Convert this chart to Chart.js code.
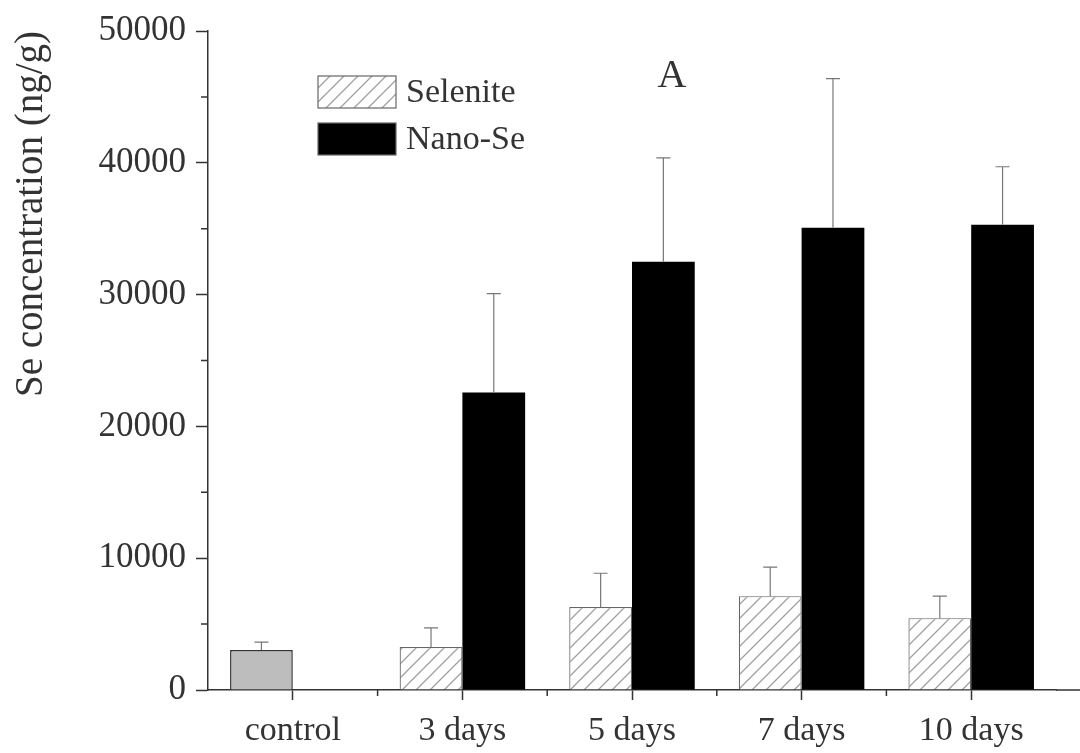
<!DOCTYPE html>
<html>
<head>
<meta charset="utf-8">
<script src="https://cdn.jsdelivr.net/npm/chart.js@4.4.0/dist/chart.umd.min.js"></script>
<style>
  html, body { margin: 0; padding: 0; background: #fff; }
  #wrap { width: 1080px; height: 753px; }
</style>
</head>
<body>
<div id="wrap"><canvas id="seChart" width="1080" height="753"></canvas></div>
<script>
/* ================= Data ================= */

const categories = ['control', '3 days', '5 days', '7 days', '10 days'];
const controlValues = [3030, null, null, null, null];
const controlErrors = [600, null, null, null, null];
const seleniteValues = [null, 3260, 6290, 7120, 5450];
const seleniteErrors = [null, 1450, 2570, 2200, 1670];
const nanoValues = [null, 22580, 32500, 35080, 35300];
const nanoErrors = [null, 7500, 7880, 11300, 4400];
const yTicks = [0, 10000, 20000, 30000, 40000, 50000];

Chart.defaults.font.family = "'Liberation Serif', 'Times New Roman', serif";
Chart.defaults.color = '#333';

// diagonal hatch for the selenite bars
function makeHatch() {
  const size = 14;
  const c = document.createElement('canvas');
  c.width = size; c.height = size;
  const g = c.getContext('2d');
  g.fillStyle = '#fff';
  g.fillRect(0, 0, size, size);
  g.strokeStyle = '#a0a0a0';
  g.lineWidth = 1.3;
  g.beginPath();
  g.moveTo(0, size); g.lineTo(size, 0);
  g.moveTo(-size / 2, size / 2); g.lineTo(size / 2, -size / 2);
  g.moveTo(size / 2, size * 1.5); g.lineTo(size * 1.5, size / 2);
  g.stroke();
  return g.createPattern(c, 'repeat');
}
const hatch = makeHatch();

/* ================= Plugins ================= */

// upper error whiskers
const errorBars = {
  id: 'errorBars',
  afterDatasetsDraw(chart) {
    const ctx = chart.ctx;
    const y = chart.scales.y;
    ctx.save();
    ctx.strokeStyle = '#777';
    ctx.lineWidth = 1.2;
    chart.data.datasets.forEach((ds, di) => {
      const meta = chart.getDatasetMeta(di);
      ds.data.forEach((v, i) => {
        const err = ds.errors[i];
        if (v == null || err == null) return;
        const bar = meta.data[i];
        const top = y.getPixelForValue(v + err);
        ctx.beginPath();
        ctx.moveTo(bar.x, bar.y);
        ctx.lineTo(bar.x, top);
        ctx.moveTo(bar.x - 7, top);
        ctx.lineTo(bar.x + 7, top);
        ctx.stroke();
      });
    });
    ctx.restore();
  }
};

// minor ticks, axis extension, legend and panel letter
const extras = {
  id: 'extras',
  afterDraw(chart) {
    const ctx = chart.ctx;
    const area = chart.chartArea;
    const x = chart.scales.x;
    const y = chart.scales.y;
    ctx.save();
    ctx.strokeStyle = '#333';
    ctx.lineWidth = 1.5;
    ctx.beginPath();
    for (let i = 0; i < yTicks.length - 1; i++) {
      const py = y.getPixelForValue((yTicks[i] + yTicks[i + 1]) / 2);
      ctx.moveTo(area.left, py);
      ctx.lineTo(area.left - 7, py);
    }
    for (let i = 0; i < categories.length - 1; i++) {
      const px = (x.getPixelForTick(i) + x.getPixelForTick(i + 1)) / 2;
      ctx.moveTo(px, area.bottom);
      ctx.lineTo(px, area.bottom + 6);
    }
    ctx.moveTo(area.right, area.bottom);
    ctx.lineTo(chart.width, area.bottom);
    ctx.stroke();

    // legend
    const lx = area.left + 110, ly = area.top + 45;
    const items = chart.data.datasets.filter(d => d.label !== 'control');
    items.forEach((d, k) => {
      const top = ly + k * 47;
      ctx.fillStyle = d.backgroundColor;
      ctx.fillRect(lx, top, 78, 32);
      ctx.strokeStyle = '#666';
      ctx.lineWidth = 1.2;
      ctx.strokeRect(lx, top, 78, 32);
      ctx.fillStyle = '#333';
      ctx.font = "34px 'Liberation Serif', serif";
      ctx.textBaseline = 'middle';
      ctx.textAlign = 'left';
      ctx.fillText(d.label, lx + 88, top + 17);
    });

    // panel letter
    ctx.font = "40px 'Liberation Serif', serif";
    ctx.textAlign = 'center';
    ctx.fillText('A', area.left + 464, area.top + 45);
    ctx.restore();
  }
};

/* ================= Bar Chart ================= */

const ctx = document.getElementById('seChart');

new Chart(ctx, {
  type: 'bar',
  data: {
    labels: categories,
    datasets: [
      {
        label: 'control',
        data: controlValues,
        errors: controlErrors,
        stack: 'a',
        backgroundColor: '#bdbdbd',
        borderColor: '#333',
        borderWidth: 1.5
      },
      {
        label: 'Selenite',
        data: seleniteValues,
        errors: seleniteErrors,
        stack: 'a',
        backgroundColor: hatch,
        borderColor: '#666',
        borderWidth: 1.2
      },
      {
        label: 'Nano-Se',
        data: nanoValues,
        errors: nanoErrors,
        stack: 'b',
        backgroundColor: '#000',
        borderWidth: 0
      }
    ]
  },
  options: {
    responsive: false,
    animation: false,
    categoryPercentage: 0.74,
    barPercentage: 1.0,
    layout: { padding: { left: 0, top: 30, right: 24, bottom: 0 } },
    plugins: {
      legend: { display: false },
      tooltip: { enabled: false }
    },
    scales: {
      x: {
        offset: true,
        grid: { offset: false, drawOnChartArea: false, tickLength: 10, color: '#333', tickWidth: 1.5 },
        border: { color: '#333', width: 1.5 },
        ticks: { font: { size: 34 }, padding: 11, color: '#333', maxRotation: 0 },
        afterFit: (scale) => { scale.height = 63; }
      },
      y: {
        min: 0,
        max: 50000,
        stacked: false,
        grid: { drawOnChartArea: false, tickLength: 12, color: '#333', tickWidth: 1.5 },
        border: { color: '#333', width: 1.5 },
        afterBuildTicks: (scale) => { scale.ticks = yTicks.map(v => ({ value: v })); },
        ticks: { font: { size: 35 }, padding: 10, color: '#333', callback: (v) => String(v) },
        title: {
          display: true,
          text: 'Se concentration (ng/g)',
          align: 'end',
          font: { size: 39 },
          color: '#333',
          padding: { top: 8, bottom: 0 }
        },
        afterFit: (scale) => { scale.width = 208; }
      }
    }
  },
  plugins: [errorBars, extras]
});
</script>
</body>
</html>
